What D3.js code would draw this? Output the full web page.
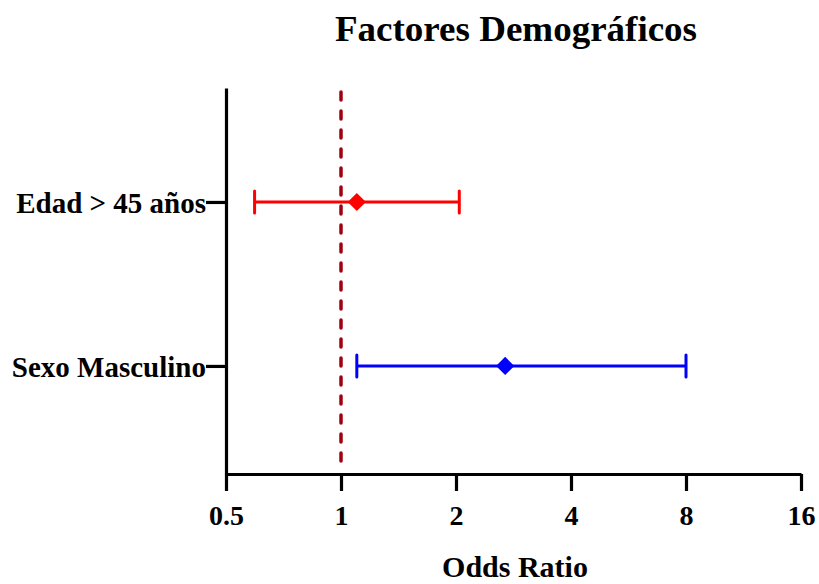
<!DOCTYPE html>
<html lang="en">
	<head>
		<meta charset="utf-8">
		<title>Factores Demograficos</title>
		<script src="https://d3js.org/d3.v7.min.js"></script>
		<style>
			body { margin: 0; background: #fff; }
		</style>
	</head>
	<body>
		<script type="text/javascript">

			// Width and height of svg
			var w = 819;
			var h = 584;

			// data
			var categories = ["Edad > 45 años", "Sexo Masculino"];
			var oddsRatio = [1.10, 2.69];
			var lower = [0.594, 1.10];
			var upper = [2.04, 8.0];
			var colors = ["#ff0000", "#0000ff"];
			var rowPos = [2, 1];
			var xTicks = [0.5, 1, 2, 4, 8, 16];

			var font = "'Liberation Serif', 'Times New Roman', serif";

			// scales
			var xScale = d3.scaleLog().base(2).domain([0.5, 16]).range([226, 801]);
			var yScale = d3.scaleLinear().domain([0.341, 2.695]).range([474, 88]);

			var svg = d3.select("body").append("svg").attr("width", w).attr("height", h);

			// title
			svg.append("text").attr("x", 516).attr("y", 41).attr("text-anchor", "middle")
				.attr("font-family", font).attr("font-weight", "bold").attr("font-size", "35px")
				.attr("textLength", 362).attr("lengthAdjust", "spacingAndGlyphs")
				.text("Factores Demográficos");

			// x axis
			var xAxis = d3.axisBottom(xScale).tickValues(xTicks).tickFormat(d3.format("")).tickSize(17).tickSizeOuter(0);
			var gx = svg.append("g").attr("transform", "translate(0,474)").call(xAxis);
			gx.select(".domain").attr("stroke-width", 3.2);
			gx.selectAll(".tick line").attr("stroke-width", 3.2);
			gx.selectAll(".tick text").attr("font-family", font).attr("font-weight", "bold")
				.attr("font-size", "28px").attr("fill", "#000").attr("y", 51).attr("dy", 0);

			// y axis
			var yAxis = d3.axisLeft(yScale).tickValues(rowPos).tickFormat(function(d, i) { return categories[i]; })
				.tickSize(20).tickSizeOuter(0);
			var gy = svg.append("g").attr("transform", "translate(226,0)").call(yAxis);
			gy.select(".domain").attr("stroke-width", 3.2);
			gy.selectAll(".tick line").attr("stroke-width", 3.2);
			gy.selectAll(".tick text").attr("font-family", font).attr("font-weight", "bold")
				.attr("font-size", "29px").attr("fill", "#000").attr("x", -20).attr("dy", "0.35em");

			// reference line at OR = 1
			svg.append("line").attr("x1", xScale(1)).attr("x2", xScale(1)).attr("y1", 92).attr("y2", 472)
				.attr("stroke", "#a00010").attr("stroke-width", 3.5).attr("stroke-dasharray", "8,11")
				.attr("stroke-linecap", "round");

			// error bars
			var rows = svg.selectAll("g.row").data(categories).enter().append("g").attr("class", "row");
			rows.append("line")
				.attr("x1", function(d, i) { return xScale(lower[i]); })
				.attr("x2", function(d, i) { return xScale(upper[i]); })
				.attr("y1", function(d, i) { return yScale(rowPos[i]); })
				.attr("y2", function(d, i) { return yScale(rowPos[i]); })
				.attr("stroke", function(d, i) { return colors[i]; }).attr("stroke-width", 3);
			[lower, upper].forEach(function(arr) {
				rows.append("line")
					.attr("x1", function(d, i) { return xScale(arr[i]); })
					.attr("x2", function(d, i) { return xScale(arr[i]); })
					.attr("y1", function(d, i) { return yScale(rowPos[i]) - 11; })
					.attr("y2", function(d, i) { return yScale(rowPos[i]) + 11; })
					.attr("stroke", function(d, i) { return colors[i]; }).attr("stroke-width", 3)
					.attr("stroke-linecap", "round");
			});
			rows.append("path")
				.attr("d", d3.symbol(d3.symbolSquare, 165))
				.attr("transform", function(d, i) { return "translate(" + xScale(oddsRatio[i]) + "," + yScale(rowPos[i]) + ") rotate(45)"; })
				.attr("fill", function(d, i) { return colors[i]; });

			// x axis title
			svg.append("text").attr("x", 515).attr("y", 577).attr("text-anchor", "middle")
				.attr("font-family", font).attr("font-weight", "bold").attr("font-size", "30px")
				.text("Odds Ratio");

		</script>
	</body>
</html>
